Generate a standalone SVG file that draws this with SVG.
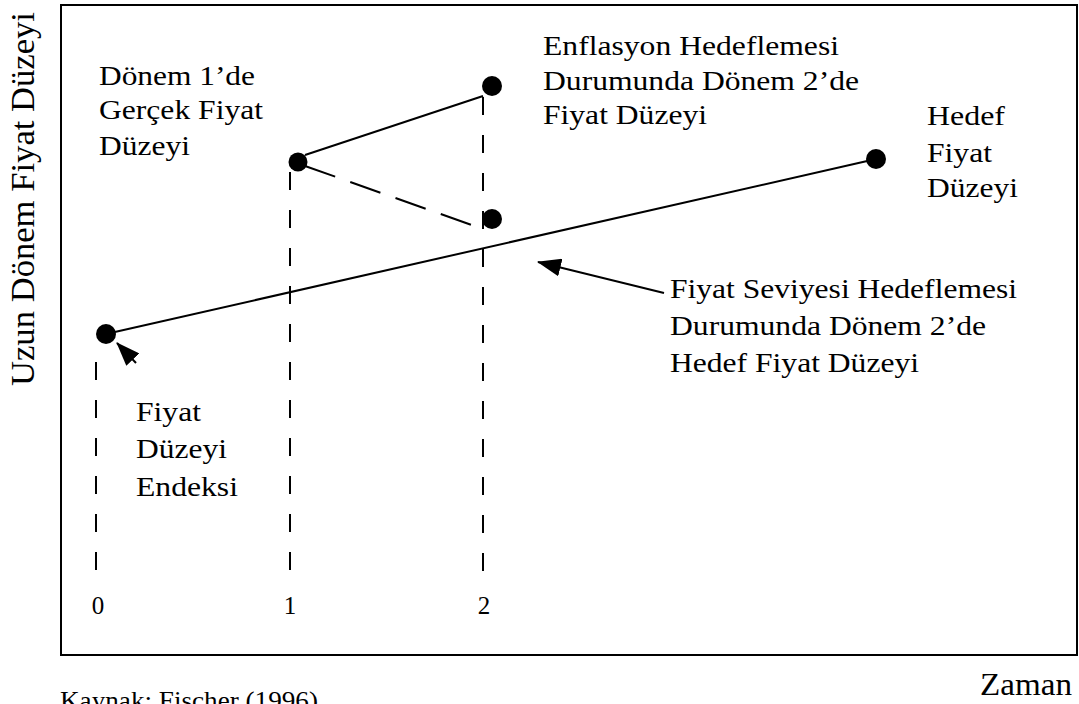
<svg xmlns="http://www.w3.org/2000/svg" width="1079" height="704" viewBox="0 0 1079 704">
<style>
  .t { font-family: "Liberation Serif", "Times New Roman", serif; font-size: 28px; fill: #000; }
  .d { font-family: "Liberation Serif", "Times New Roman", serif; font-size: 25px; fill: #000; text-anchor: middle; }
  .solid { stroke: #000; stroke-width: 2; fill: none; }
  .vdash { stroke: #000; stroke-width: 2; fill: none; stroke-dasharray: 18 20; }
  .sdash { stroke: #000; stroke-width: 2; fill: none; stroke-dasharray: 32 16; }
  .dot { fill: #000; }
</style>
<defs>
  <marker id="ahBig" markerWidth="24" markerHeight="18" refX="23" refY="9" orient="auto" markerUnits="userSpaceOnUse" viewBox="0 0 24 18">
    <path d="M0,0 L24,9 L0,18 Z" fill="#000"/>
  </marker>
</defs>
<rect width="1079" height="704" fill="#fff"/>
<g id="frame">
  <rect x="61" y="5" width="1016" height="650" fill="none" stroke="#000" stroke-width="2"/>
</g>
<g id="axis-labels">
  <text class="t" style="font-size:33px" transform="translate(34,386) rotate(-90)" textLength="374" lengthAdjust="spacingAndGlyphs">Uzun Dönem Fiyat Düzeyi</text>
  <text class="t" style="font-size:31px" x="980" y="695" textLength="92" lengthAdjust="spacingAndGlyphs">Zaman</text>
  <text class="t" style="font-size:26px" x="60" y="709" textLength="258" lengthAdjust="spacingAndGlyphs">Kaynak: Fischer (1996)</text>
  <text class="d" x="98" y="614">0</text>
  <text class="d" x="290" y="614">1</text>
  <text class="d" x="484" y="614">2</text>
</g>
<g id="connectors">
  <line class="vdash" x1="96" y1="362" x2="96" y2="578"/>
  <line class="vdash" x1="290" y1="172" x2="290" y2="578"/>
  <line class="vdash" x1="483" y1="97" x2="483" y2="578"/>
  <line class="solid" x1="106" y1="334" x2="876" y2="159"/>
  <line class="solid" x1="305" y1="155" x2="483" y2="96"/>
  <line class="sdash" x1="305" y1="166" x2="483" y2="229"/>
  <line class="solid" x1="664" y1="293" x2="538" y2="262" marker-end="url(#ahBig)"/>
  <line class="solid" x1="136" y1="363" x2="117" y2="343" marker-end="url(#ahBig)"/>
</g>
<g id="node-p0"><circle class="dot" cx="106" cy="334" r="10"/></g>
<g id="node-p1"><circle class="dot" cx="298" cy="162" r="9.5"/></g>
<g id="node-p2-inflation"><circle class="dot" cx="492" cy="86" r="10"/></g>
<g id="node-p2-price"><circle class="dot" cx="492" cy="219" r="10"/></g>
<g id="node-target"><circle class="dot" cx="876" cy="159" r="10"/></g>
<g id="label-donem1">
  <text class="t" x="99" y="85" textLength="156" lengthAdjust="spacingAndGlyphs">Dönem 1’de</text>
  <text class="t" x="99" y="119" textLength="164" lengthAdjust="spacingAndGlyphs">Gerçek Fiyat</text>
  <text class="t" x="99" y="155" textLength="91" lengthAdjust="spacingAndGlyphs">Düzeyi</text>
</g>
<g id="label-enflasyon">
  <text class="t" x="543" y="55" textLength="296" lengthAdjust="spacingAndGlyphs">Enflasyon Hedeflemesi</text>
  <text class="t" x="543" y="90" textLength="316" lengthAdjust="spacingAndGlyphs">Durumunda Dönem 2’de</text>
  <text class="t" x="543" y="124" textLength="164" lengthAdjust="spacingAndGlyphs">Fiyat Düzeyi</text>
</g>
<g id="label-hedef">
  <text class="t" x="927" y="125" textLength="78" lengthAdjust="spacingAndGlyphs">Hedef</text>
  <text class="t" x="927" y="162" textLength="65" lengthAdjust="spacingAndGlyphs">Fiyat</text>
  <text class="t" x="927" y="197" textLength="91" lengthAdjust="spacingAndGlyphs">Düzeyi</text>
</g>
<g id="label-seviye">
  <text class="t" x="670" y="298" textLength="347" lengthAdjust="spacingAndGlyphs">Fiyat Seviyesi Hedeflemesi</text>
  <text class="t" x="670" y="335" textLength="316" lengthAdjust="spacingAndGlyphs">Durumunda Dönem 2’de</text>
  <text class="t" x="670" y="372" textLength="249" lengthAdjust="spacingAndGlyphs">Hedef Fiyat Düzeyi</text>
</g>
<g id="label-endeks">
  <text class="t" x="136" y="421" textLength="65" lengthAdjust="spacingAndGlyphs">Fiyat</text>
  <text class="t" x="136" y="458" textLength="91" lengthAdjust="spacingAndGlyphs">Düzeyi</text>
  <text class="t" x="136" y="496" textLength="102" lengthAdjust="spacingAndGlyphs">Endeksi</text>
</g>
</svg>
